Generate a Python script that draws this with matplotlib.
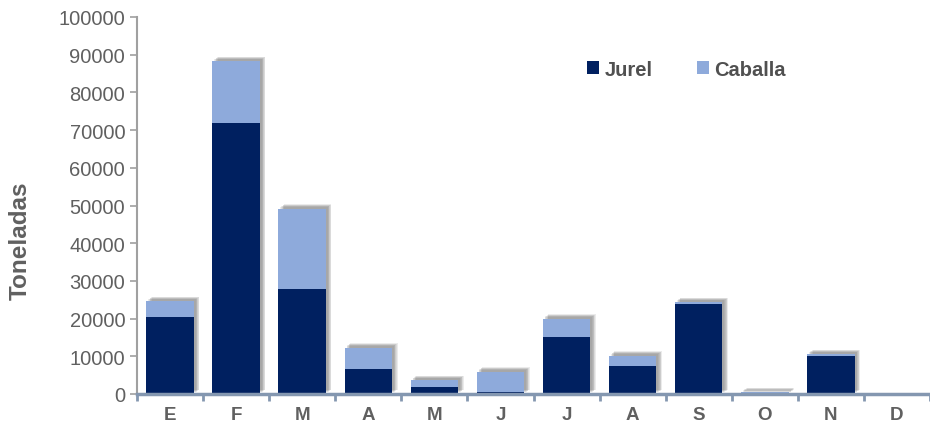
import numpy as np
import matplotlib.pyplot as plt
from matplotlib import transforms

meses = ['E', 'F', 'M', 'A', 'M', 'J', 'J', 'A', 'S', 'O', 'N', 'D']
jurel = [20400, 71900, 27800, 6700, 1900, 600, 15200, 7500, 23900, 150, 10200, 0]
caballa = [4200, 16400, 21300, 5600, 1700, 5300, 4800, 2700, 400, 350, 350, 0]

plt.rcParams['font.family'] = ['Liberation Sans', 'DejaVu Sans']

fig = plt.figure(figsize=(9.3, 4.27), dpi=100)
ax = fig.add_axes([137 / 930, (427 - 395) / 427, (930 - 137) / 930, (395 - 18) / 427])

x = np.arange(len(meses))
total = np.array(jurel) + np.array(caballa)
w = 0.72

# sombra difusa
for k in range(6):
    off = transforms.ScaledTranslation((2 + k * 0.7) / 100, (2 + k * 0.5) / 100, fig.dpi_scale_trans)
    ax.bar(x, total, w, color='#606060', alpha=0.12, zorder=1,
           transform=ax.transData + off, linewidth=0)

ax.bar(x, jurel, w, color='#002060', zorder=3, label='Jurel', linewidth=0)
ax.bar(x, caballa, w, bottom=jurel, color='#8eaadb', zorder=3, label='Caballa', linewidth=0)

ax.set_xlim(-0.5, 11.5)
ax.set_ylim(0, 100000)
ax.set_yticks(np.arange(0, 100001, 10000))
ax.set_xticks(x)
ax.set_xticklabels(meses, fontweight='bold', color='#606060', fontsize=13.5)
ax.set_xticks(np.arange(-0.5, 12, 1), minor=True)
ax.tick_params(axis='x', which='major', length=0, pad=9)
ax.tick_params(axis='x', which='minor', length=5, width=2, color='#8497b0')
ax.tick_params(axis='y', length=5, width=1.2, color='#a0a0a0', labelcolor='#606060', labelsize=14.5)

for s in ['top', 'right']:
    ax.spines[s].set_visible(False)
ax.spines['left'].set_color('#a0a0a0')
ax.spines['left'].set_linewidth(1.5)
ax.spines['bottom'].set_color('#8497b0')
ax.spines['bottom'].set_linewidth(2.5)
ax.spines['bottom'].set_zorder(4)

ax.set_ylabel('Toneladas', fontweight='bold', color='#606060', fontsize=17.5)
ax.yaxis.set_label_coords(-0.133, 0.41)

leg = ax.legend(loc='upper left', bbox_to_anchor=(0.545, 0.935), ncol=2, frameon=False,
                prop={'weight': 'bold', 'size': 14.5}, handlelength=0.6, handleheight=0.6,
                columnspacing=2.2, handletextpad=0.25)
for t in leg.get_texts():
    t.set_color('#505050')

fig.savefig('out.png', dpi=100)
